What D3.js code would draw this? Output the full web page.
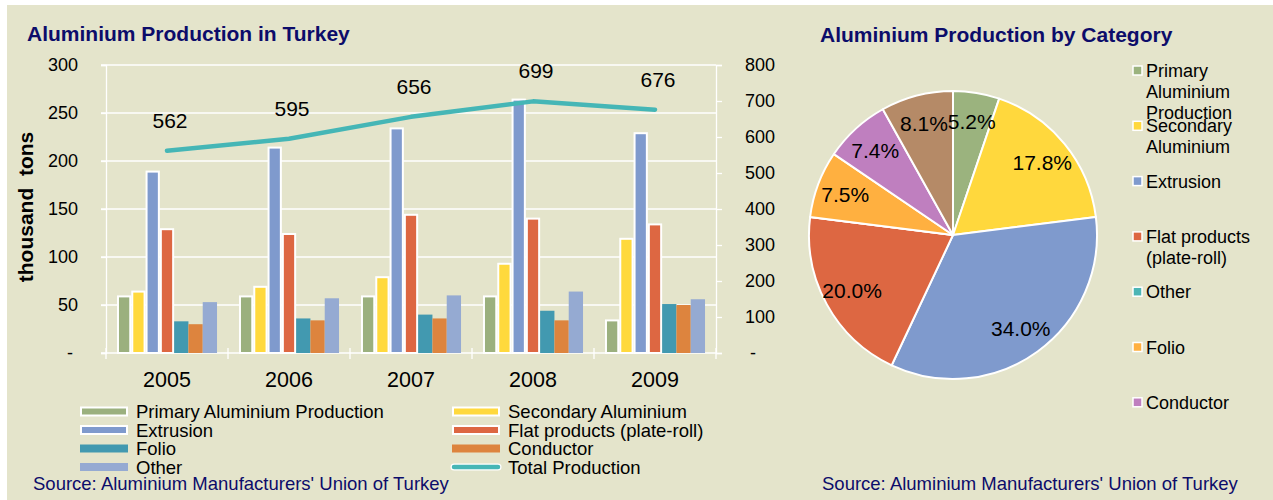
<!DOCTYPE html>
<html>
<head>
<meta charset="utf-8">
<script src="https://cdn.jsdelivr.net/npm/d3@7"></script>
<style>
body { margin:0; background:#fff; }
svg text { font-family:"Liberation Sans", Arial, sans-serif; }
</style>
</head>
<body>
<svg id="chart" width="1273" height="500"></svg>
<script>
// bar chart data (thousand tons)
var years = ['2005', '2006', '2007', '2008', '2009'];
var primary = [60, 60, 60, 60, 35];
var secondary = [65, 70, 80, 94, 120];
var extrusion = [190, 215, 235, 265, 230];
var flat = [130, 125, 145, 141, 135];
var folio = [33, 36, 40, 44, 51];
var conductor = [30, 34, 36, 34, 50];
var other = [53, 57, 60, 64, 56];
var totalProduction = [562, 595, 656, 699, 676];
var leftTicks = [0, 50, 100, 150, 200, 250, 300];
var rightTicks = [0, 100, 200, 300, 400, 500, 600, 700, 800];

var seriesNames = ['Primary Aluminium Production', 'Secondary Aluminium', 'Extrusion',
   'Flat products (plate-roll)', 'Folio', 'Conductor', 'Other'];
var seriesValues = [primary, secondary, extrusion, flat, folio, conductor, other];
var seriesColors = ['#9BB07E', '#FFD93D', '#7F9ACD', '#DD6742', '#4299B0', '#DD843E', '#95AAD2'];
var legendOrder = ['Primary Aluminium Production', 'Secondary Aluminium', 'Extrusion',
   'Flat products (plate-roll)', 'Folio', 'Conductor', 'Other', 'Total Production'];

// pie data (% share)
var pieCategories = ['Primary Aluminium Production', 'Secondary Aluminium', 'Extrusion',
   'Flat products (plate-roll)', 'Other', 'Folio', 'Conductor', 'Unlisted'];
var pieShares = [5.2, 17.8, 34.0, 20.0, 0, 7.5, 7.4, 8.1];
var pieColors = ['#9BB37E', '#FFD83D', '#7F9ACD', '#DD6742', '#4BB5B5', '#FFB040', '#BF7FBF', '#B58A67'];
var pieLegendLines = [['Primary', 'Aluminium', 'Production'], ['Secondary', 'Aluminium'], ['Extrusion'],
   ['Flat products', '(plate-roll)'], ['Other'], ['Folio'], ['Conductor']];

var lineColor = '#45B6B6';
var navy = '#0C0C6A';

var svg = d3.select('#chart');
svg.append('rect').attr('x', 7).attr('y', 5).attr('width', 1266).attr('height', 495).attr('fill', '#E4E4CB');

// ---------- bar chart ----------
var x0 = d3.scaleBand().domain(years).range([106, 716]).paddingInner(0.18).paddingOuter(0.09);
var x1 = d3.scaleBand().domain(d3.range(seriesNames.length)).range([0, x0.bandwidth()]);
var y = d3.scaleLinear().domain([0, 300]).range([353, 65]);
var yR = d3.scaleLinear().domain([0, 800]).range([353, 65]);
var bottom = y(0);

var g = svg.append('g');

// gridlines
g.selectAll('.grid').data(leftTicks).enter().append('line')
   .attr('x1', 101).attr('x2', 716)
   .attr('y1', function(d){ return y(d); }).attr('y2', function(d){ return y(d); })
   .attr('stroke', '#fff').attr('stroke-width', 1.3);

// left axis
var axisL = g.append('g').attr('transform', 'translate(106,0)')
   .call(d3.axisLeft(y).tickValues(leftTicks).tickSize(5).tickPadding(23)
      .tickFormat(function(d){ return d === 0 ? '- ' : d; }));
// right axis
var axisR = g.append('g').attr('transform', 'translate(716,0)')
   .call(d3.axisRight(yR).tickValues(rightTicks).tickSize(6).tickPadding(23)
      .tickFormat(function(d){ return d === 0 ? ' -' : d; }));
[axisL, axisR].forEach(function(a){
   a.select('.domain').attr('stroke', '#fff').attr('stroke-width', 1.3);
   a.selectAll('.tick line').attr('stroke', '#fff').attr('stroke-width', 1.3);
   a.selectAll('.tick text').attr('fill', '#000').style('font-size', '18px')
      .style('font-family', '"Liberation Sans", Arial, sans-serif').style('white-space', 'pre');
});

// category separators
g.selectAll('.sep').data(d3.range(years.length + 1)).enter().append('line')
   .attr('x1', function(i){ return 106 + i * x0.step(); })
   .attr('x2', function(i){ return 106 + i * x0.step(); })
   .attr('y1', bottom - 5).attr('y2', bottom + 6)
   .attr('stroke', '#fff').attr('stroke-width', 1.3);

// bars
seriesValues.forEach(function(vals, s){
   var outlined = s < 4;
   g.selectAll('.bar' + s).data(vals).enter().append('rect')
      .attr('x', function(d, i){ return x0(years[i]) + x1(s) + (outlined ? 1 : 0); })
      .attr('y', function(d){ return y(d) + (outlined ? 1 : 0); })
      .attr('width', x1.bandwidth() - (outlined ? 2 : 0))
      .attr('height', function(d){ return bottom - y(d) - (outlined ? 1 : 0); })
      .attr('fill', seriesColors[s])
      .attr('stroke', outlined ? '#fff' : 'none')
      .attr('stroke-width', 2);
});

// year labels
g.selectAll('.year').data(years).enter().append('text')
   .attr('x', function(d){ return x0(d) + x0.bandwidth() / 2; })
   .attr('y', 387).attr('text-anchor', 'middle')
   .style('font-size', '21.5px').text(function(d){ return d; });

// total production line
var line = d3.line()
   .x(function(d, i){ return x0(years[i]) + x0.bandwidth() / 2; })
   .y(function(d){ return yR(d); });
g.append('path').datum(totalProduction).attr('d', line)
   .attr('fill', 'none').attr('stroke', lineColor).attr('stroke-width', 4.5)
   .attr('stroke-linecap', 'round').attr('stroke-linejoin', 'round');
g.selectAll('.tot').data(totalProduction).enter().append('text')
   .attr('x', function(d, i){ return x0(years[i]) + x0.bandwidth() / 2 + 3; })
   .attr('y', function(d){ return yR(d) - 23; })
   .attr('text-anchor', 'middle').style('font-size', '21px')
   .text(function(d){ return d; });

// titles
svg.append('text').attr('x', 27).attr('y', 41).attr('fill', navy)
   .style('font-size', '21px').style('font-weight', 'bold')
   .text('Aluminium Production in Turkey');
svg.append('text').attr('transform', 'translate(33,207) rotate(-90)')
   .attr('text-anchor', 'middle').style('font-size', '21px').style('font-weight', 'bold')
   .style('white-space', 'pre').text('thousand  tons');

// bar legend
var leg = svg.append('g');
legendOrder.forEach(function(name, i){
   var col = i % 2, row = Math.floor(i / 2);
   var lx = 80 + col * 372, ly = 411.5 + row * 18.5;
   var s = seriesNames.indexOf(name);
   if (s < 0) {
      leg.append('line').attr('x1', lx + 2).attr('x2', lx + 46).attr('y1', ly).attr('y2', ly)
         .attr('stroke', '#fff').attr('stroke-width', 7).attr('stroke-linecap', 'round');
      leg.append('line').attr('x1', lx + 2).attr('x2', lx + 46).attr('y1', ly).attr('y2', ly)
         .attr('stroke', lineColor).attr('stroke-width', 4.5).attr('stroke-linecap', 'round');
   } else {
      var outlined = s < 4;
      leg.append('rect').attr('x', lx + (outlined ? 1 : 0)).attr('y', ly - 4)
         .attr('width', 48 - (outlined ? 2 : 0)).attr('height', 8)
         .attr('fill', seriesColors[s]).attr('stroke', outlined ? '#fff' : 'none').attr('stroke-width', 2);
   }
   leg.append('text').attr('x', lx + 56).attr('y', ly + 6.5)
      .style('font-size', '18.5px').text(name);
});

svg.append('text').attr('x', 33).attr('y', 490).attr('fill', navy).style('font-size', '18.5px')
   .text("Source: Aluminium Manufacturers' Union of Turkey");

// ---------- pie chart ----------
var cx = 953, cy = 235, r = 144;
var pie = d3.pie().sort(null).value(function(d){ return d; });
var arc = d3.arc().innerRadius(0).outerRadius(r);
var labelArc = d3.arc().innerRadius(r * 0.8).outerRadius(r * 0.8);
var arcs = pie(pieShares);
var pg = svg.append('g').attr('transform', 'translate(' + cx + ',' + cy + ')');
pg.selectAll('path').data(arcs).enter().append('path')
   .attr('d', arc)
   .attr('fill', function(d, i){ return pieColors[i]; })
   .attr('stroke', '#fff').attr('stroke-width', 2).attr('stroke-linejoin', 'round');
pg.selectAll('.pl').data(arcs.filter(function(d){ return d.data > 0; })).enter().append('text')
   .attr('transform', function(d){ return 'translate(' + labelArc.centroid(d) + ')'; })
   .attr('dy', '0.36em').attr('text-anchor', 'middle').style('font-size', '21px')
   .text(function(d){ return d.data.toFixed(1) + '%'; });

svg.append('text').attr('x', 820).attr('y', 42).attr('fill', navy)
   .style('font-size', '21px').style('font-weight', 'bold')
   .text('Aluminium Production by Category');

// pie legend
var pl = svg.append('g');
pieLegendLines.forEach(function(lines, i){
   var base = 77 + i * 55.3;
   pl.append('rect').attr('x', 1133).attr('y', base - 11).attr('width', 9).attr('height', 9)
      .attr('fill', pieColors[i]).attr('stroke', '#fff').attr('stroke-width', 1.5);
   var t = pl.append('text').attr('x', 1146).attr('y', base).style('font-size', '18px');
   lines.forEach(function(l, k){
      t.append('tspan').attr('x', 1146).attr('dy', k === 0 ? 0 : 21).text(l);
   });
});

svg.append('text').attr('x', 822).attr('y', 490).attr('fill', navy).style('font-size', '18.5px')
   .text("Source: Aluminium Manufacturers' Union of Turkey");
</script>
</body>
</html>
